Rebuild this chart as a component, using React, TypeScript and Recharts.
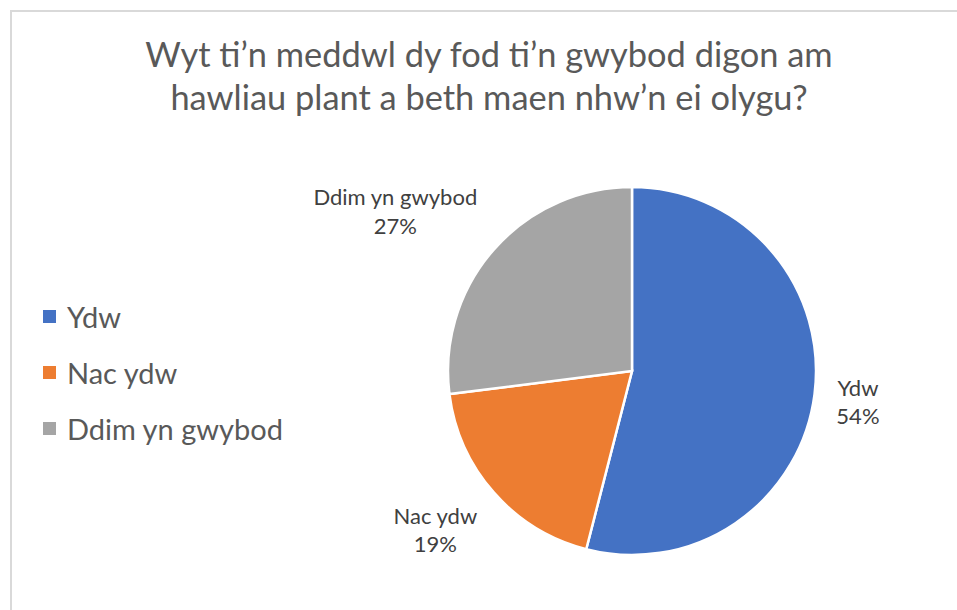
import React from 'react';
import { PieChart, Pie, Cell, Legend } from 'recharts';

const categories = ['Ydw', 'Nac ydw', 'Ddim yn gwybod'];
const values = [54, 19, 27];
const colors = ['#4472C4', '#ED7D31', '#A5A5A5'];
const titleLines = ['Wyt ti’n meddwl dy fod ti’n gwybod digon am', 'hawliau plant a beth maen nhw’n ei olygu?'];

const data = categories.map((name, i) => ({ name, value: values[i] }));

const FONT = 'Lato, "Open Sans", sans-serif';
const RAD = Math.PI / 180;

let ctx: CanvasRenderingContext2D | null = null;
const measure = (t: string, size: number) => {
  if (typeof document === 'undefined') return t.length * size * 0.5;
  if (!ctx) ctx = document.createElement('canvas').getContext('2d');
  if (!ctx) return t.length * size * 0.5;
  ctx.font = `${size}px Lato, "Open Sans", sans-serif`;
  return ctx.measureText(t).width;
};

const renderLabel = (props: any) => {
  const { cx, cy, midAngle, outerRadius, percent, name } = props;
  const c = Math.cos(-midAngle * RAD);
  const s = Math.sin(-midAngle * RAD);
  const r = outerRadius + 22;
  const px = cx + r * c;
  const py = cy + r * s;
  const F = 22;
  const lines = [name, `${Math.round(percent * 100)}%`];
  const w = Math.max(...lines.map((t) => measure(t, F)));
  const mx = c >= 0 ? px + w / 2 : px - w / 2;
  const centerY = py + Math.max(-23, Math.min(23, s * 40));
  const gap = 28.5;
  const b1 = centerY - gap / 2 + 0.36 * F;
  const b2 = centerY + gap / 2 + 0.36 * F;
  return (
    <g>
      {lines.map((t, i) => (
        <text key={i} x={mx} y={i === 0 ? b1 : b2} textAnchor="middle" fill="#404040" fontSize={F} fontFamily={FONT}>
          {t}
        </text>
      ))}
    </g>
  );
};

const renderLegend = (props: any) => {
  const payload = [...(props.payload || [])].sort(
    (a: any, b: any) => categories.indexOf(a.value) - categories.indexOf(b.value)
  );
  return (
    <div style={{ fontFamily: FONT, whiteSpace: 'nowrap', width: 0 }}>
      {payload.map((entry: any, i: number) => (
        <div key={i} style={{ display: 'flex', alignItems: 'center', height: 55.7 }}>
          <span style={{ display: 'inline-block', flex: 'none', width: 13, height: 13, background: entry.color, marginRight: 11 }} />
          <span style={{ color: '#595959', fontSize: 29 }}>{entry.value}</span>
        </div>
      ))}
    </div>
  );
};

export default function App() {
  return (
    <div style={{ position: 'absolute', left: 0, top: 0, width: 957, height: 610, overflow: 'hidden', background: '#fff' }}>
      <div style={{ position: 'absolute', left: 10, top: 10, width: 2000, height: 2000, borderLeft: '2px solid #d9d9d9', borderTop: '2px solid #d9d9d9' }} />
      <svg style={{ position: 'absolute', left: 0, top: 0 }} width={957} height={150}>
        {titleLines.map((t, i) => (
          <text key={i} x={489} y={67 + i * 43} textAnchor="middle" fill="#595959" fontSize={34.4} fontFamily={FONT}>
            {t}
          </text>
        ))}
      </svg>
      <div style={{ position: 'absolute', left: 0, top: 0 }}>
        <PieChart width={957} height={610} margin={{ top: 0, right: 0, bottom: 0, left: 0 }}>
          <Pie
            data={data}
            dataKey="value"
            nameKey="name"
            cx={632}
            cy={371}
            outerRadius={184}
            startAngle={90}
            endAngle={-270}
            stroke="#ffffff"
            strokeWidth={2.5}
            label={renderLabel}
            labelLine={false}
            isAnimationActive={false}
          >
            {data.map((d, i) => (
              <Cell key={d.name} fill={colors[i]} />
            ))}
          </Pie>
          <Legend
            layout="horizontal"
            verticalAlign="middle"
            align="left"
            itemSorter={null as any}
            content={renderLegend}
            wrapperStyle={{ position: 'absolute', left: 43, top: 289, width: 0, height: 0, overflow: 'visible' }}
          />
        </PieChart>
      </div>
    </div>
  );
}
